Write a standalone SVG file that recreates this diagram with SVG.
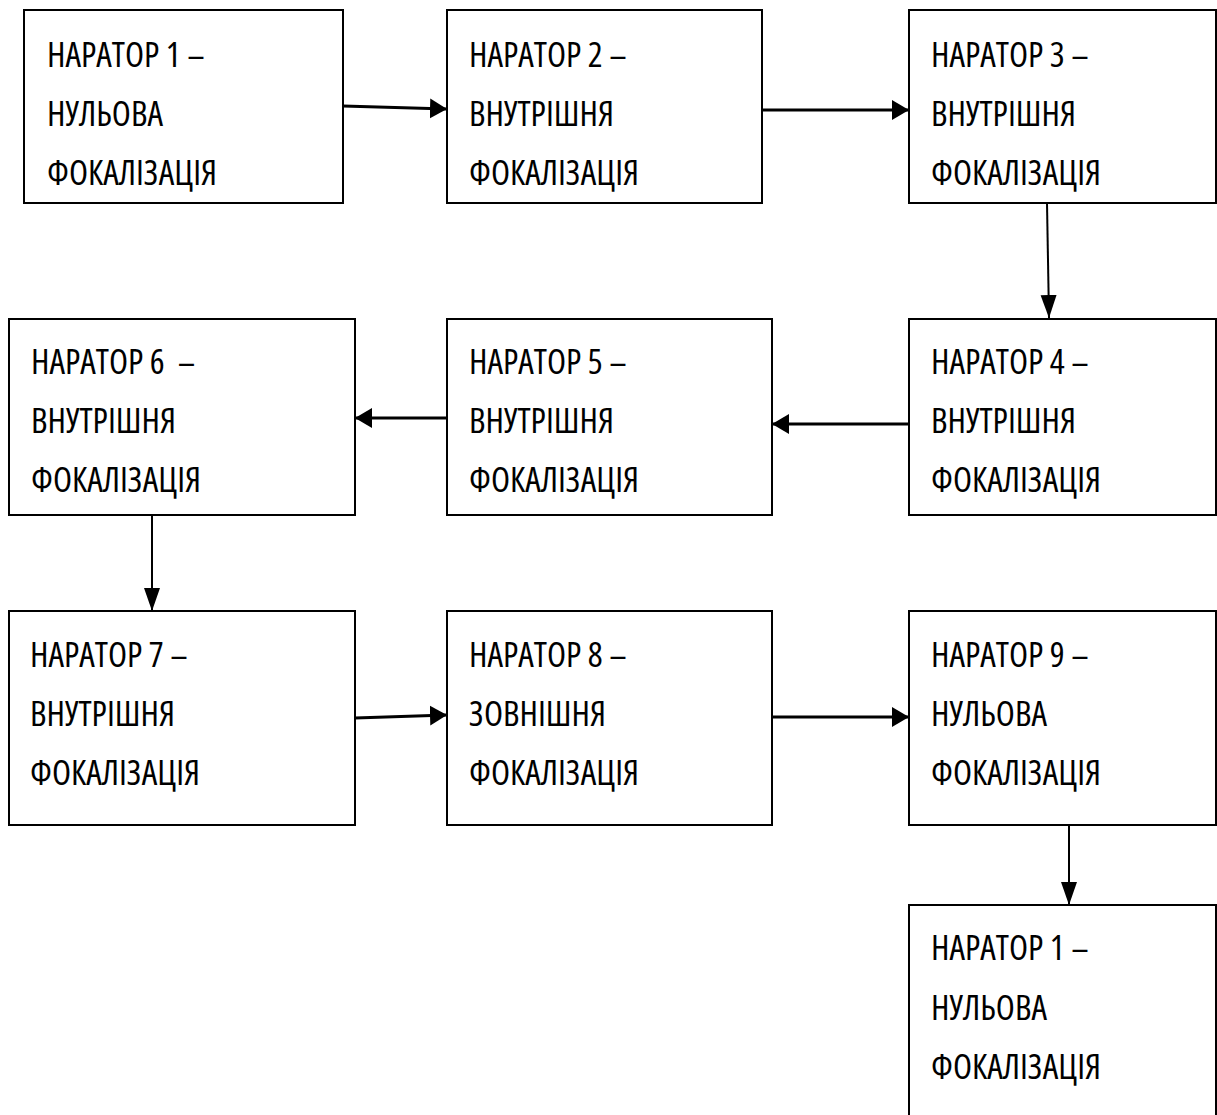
<svg xmlns="http://www.w3.org/2000/svg" width="1217" height="1115" viewBox="0 0 1217 1115">
<style>
.box{fill:#fff;stroke:#000;stroke-width:2}
.t{font-family:"Open Sans","Liberation Sans",sans-serif;font-size:35px;font-weight:400;font-stretch:75%;fill:#000}
.h{stroke:#000;stroke-width:3;fill:none}
.v{stroke:#000;stroke-width:2;fill:none}
</style>
<defs>
<marker id="ah" markerUnits="userSpaceOnUse" markerWidth="18" markerHeight="22" refX="17" refY="11" orient="auto"><path d="M0,1 L17,11 L0,21 Z" fill="#000"/></marker>
<marker id="av" markerUnits="userSpaceOnUse" markerWidth="24" markerHeight="18" refX="23" refY="8" orient="auto"><path d="M0,0 L23,8 L0,16 Z" fill="#000"/></marker>
</defs>
<rect width="1217" height="1115" fill="#fff"/>
<g id="n1"><rect class="box" x="24" y="10" width="319" height="193"/><text class="t" x="47" y="67">НАРАТОР 1 –</text><text class="t" x="47" y="126">НУЛЬОВА</text><text class="t" x="47" y="185">ФОКАЛІЗАЦІЯ</text></g>
<g id="n2"><rect class="box" x="447" y="10" width="315" height="193"/><text class="t" x="469" y="67">НАРАТОР 2 –</text><text class="t" x="469" y="126">ВНУТРІШНЯ</text><text class="t" x="469" y="185">ФОКАЛІЗАЦІЯ</text></g>
<g id="n3"><rect class="box" x="909" y="10" width="307" height="193"/><text class="t" x="931" y="67">НАРАТОР 3 –</text><text class="t" x="931" y="126">ВНУТРІШНЯ</text><text class="t" x="931" y="185">ФОКАЛІЗАЦІЯ</text></g>
<g id="n4"><rect class="box" x="909" y="319" width="307" height="196"/><text class="t" x="931" y="374">НАРАТОР 4 –</text><text class="t" x="931" y="433">ВНУТРІШНЯ</text><text class="t" x="931" y="492">ФОКАЛІЗАЦІЯ</text></g>
<g id="n5"><rect class="box" x="447" y="319" width="325" height="196"/><text class="t" x="469" y="374">НАРАТОР 5 –</text><text class="t" x="469" y="433">ВНУТРІШНЯ</text><text class="t" x="469" y="492">ФОКАЛІЗАЦІЯ</text></g>
<g id="n6"><rect class="box" x="9" y="319" width="346" height="196"/><text class="t" x="31" y="374" xml:space="preserve">НАРАТОР 6  –</text><text class="t" x="31" y="433">ВНУТРІШНЯ</text><text class="t" x="31" y="492">ФОКАЛІЗАЦІЯ</text></g>
<g id="n7"><rect class="box" x="9" y="611" width="346" height="214"/><text class="t" x="30" y="667">НАРАТОР 7 –</text><text class="t" x="30" y="726">ВНУТРІШНЯ</text><text class="t" x="30" y="785">ФОКАЛІЗАЦІЯ</text></g>
<g id="n8"><rect class="box" x="447" y="611" width="325" height="214"/><text class="t" x="469" y="667">НАРАТОР 8 –</text><text class="t" x="469" y="726">ЗОВНІШНЯ</text><text class="t" x="469" y="785">ФОКАЛІЗАЦІЯ</text></g>
<g id="n9"><rect class="box" x="909" y="611" width="307" height="214"/><text class="t" x="931" y="667">НАРАТОР 9 –</text><text class="t" x="931" y="726">НУЛЬОВА</text><text class="t" x="931" y="785">ФОКАЛІЗАЦІЯ</text></g>
<g id="n10"><path class="box" d="M909,1120 V905 H1216 V1120"/><text class="t" x="931" y="960">НАРАТОР 1 –</text><text class="t" x="931" y="1020">НУЛЬОВА</text><text class="t" x="931" y="1079">ФОКАЛІЗАЦІЯ</text></g>
<g id="connectors">
<line class="h" x1="343" y1="106" x2="447" y2="109" marker-end="url(#ah)"/>
<line class="h" x1="762" y1="110" x2="909" y2="110" marker-end="url(#ah)"/>
<line class="v" x1="1047" y1="203" x2="1049" y2="318" marker-end="url(#av)"/>
<line class="h" x1="909" y1="424" x2="772" y2="424" marker-end="url(#ah)"/>
<line class="h" x1="447" y1="418" x2="355" y2="418" marker-end="url(#ah)"/>
<line class="v" x1="152" y1="515" x2="152" y2="611" marker-end="url(#av)"/>
<line class="h" x1="355" y1="718" x2="447" y2="715" marker-end="url(#ah)"/>
<line class="h" x1="772" y1="717" x2="909" y2="717" marker-end="url(#ah)"/>
<line class="v" x1="1069" y1="825" x2="1069" y2="905" marker-end="url(#av)"/>
</g>
</svg>
